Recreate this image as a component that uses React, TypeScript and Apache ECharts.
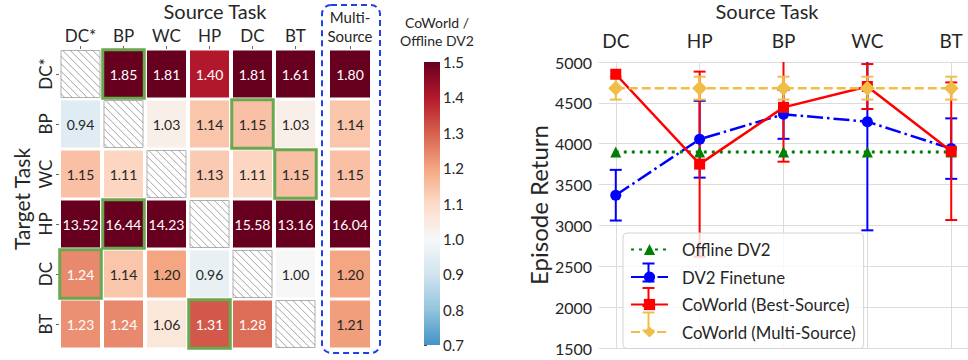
import React, { useEffect, useRef } from 'react';
import * as echarts from 'echarts';

// ---------------- DATA ----------------
const sourceTasks = ['DC*', 'BP', 'WC', 'HP', 'DC', 'BT'];
const targetTasks = ['DC*', 'BP', 'WC', 'HP', 'DC', 'BT'];
// rows = target task, columns = source task, null = same task (hatched)
const rowDCstar = [null, 1.85, 1.81, 1.40, 1.81, 1.61];
const rowBP = [0.94, null, 1.03, 1.14, 1.15, 1.03];
const rowWC = [1.15, 1.11, null, 1.13, 1.11, 1.15];
const rowHP = [13.52, 16.44, 14.23, null, 15.58, 13.16];
const rowDC = [1.24, 1.14, 1.20, 0.96, null, 1.00];
const rowBT = [1.23, 1.24, 1.06, 1.31, 1.28, null];
const ratioRows = [rowDCstar, rowBP, rowWC, rowHP, rowDC, rowBT];
const multiSourceRatio = [1.80, 1.14, 1.15, 16.04, 1.20, 1.21];
const bestSourceCol = [1, 4, 5, 1, 0, 3];
const multiLabel = ['Multi-\nSource'];
const colorbarMin = 0.7;
const colorbarMax = 1.5;

const lineCategories = ['DC', 'HP', 'BP', 'WC', 'BT'];
const offlineDV2 = [3900, 3900, 3900, 3900, 3900];
const dv2FinetuneMean = [3370, 4055, 4360, 4270, 3940];
const dv2FinetuneErr = [310, 470, 300, 1330, 370];
const bestSourceMean = [4850, 3750, 4445, 4700, 3908];
const bestSourceErr = [0, 1132, 665, 275, 842];
const multiSourceMean = [4680, 4680, 4680, 4680, 4680];
const multiSourceErr = [140, 140, 140, 140, 140];

// ---------------- STYLE ----------------
const FONT = 'Lato, "DejaVu Sans", sans-serif';
const TXT = '#262626';
const GREEN_BOX = '#6aa84f';
const C_GREEN = '#008000';
const C_BLUE = '#0000ff';
const C_RED = '#ff0000';
const C_ORANGE = '#f0be46';

const cmapStops: [number, string][] = [
  [0.7, '#4393c3'], [0.8, '#92c5de'], [0.9, '#d1e5f0'], [1.0, '#f7f7f7'],
  [1.1, '#fddbc7'], [1.2, '#f4a582'], [1.3, '#d6604d'], [1.4, '#b2182b'], [1.5, '#67001f'],
];
function hexRgb(h: string) {
  return [parseInt(h.slice(1, 3), 16), parseInt(h.slice(3, 5), 16), parseInt(h.slice(5, 7), 16)];
}
function cmap(v: number) {
  const x = Math.max(colorbarMin, Math.min(colorbarMax, v));
  for (let i = 0; i < cmapStops.length - 1; i++) {
    const [a, ca] = cmapStops[i];
    const [b, cb] = cmapStops[i + 1];
    if (x <= b + 1e-9) {
      const t = (x - a) / (b - a);
      const A = hexRgb(ca), B = hexRgb(cb);
      const c = A.map((q, k) => Math.round(q + (B[k] - q) * t));
      return `rgb(${c[0]},${c[1]},${c[2]})`;
    }
  }
  return cmapStops[cmapStops.length - 1][1];
}
function labelColor(v: number) {
  return v > 1.215 ? '#ffffff' : TXT;
}

const heatData: any[] = [];
ratioRows.forEach((row, r) => row.forEach((v, c) => heatData.push([c, r, v == null ? '-' : v])));
const multiData = multiSourceRatio.map((v, r) => [0, r, v]);
const bestData = bestSourceCol.map((c, r) => [c, r]);

function hatch(x0: number, y0: number, w: number, h: number) {
  const children: any[] = [
    { type: 'rect', shape: { x: x0, y: y0, width: w, height: h }, style: { fill: '#ffffff', stroke: '#b0b0b0', lineWidth: 1 } },
  ];
  const step = 7.5;
  for (let d = -h + step / 2; d < w; d += step) {
    const s = d >= 0 ? [x0 + d, y0] : [x0, y0 - d];
    const e = d + h <= w ? [x0 + d + h, y0 + h] : [x0 + w, y0 + w - d];
    children.push({ type: 'line', shape: { x1: s[0], y1: s[1], x2: e[0], y2: e[1] }, style: { stroke: '#8a8a8a', lineWidth: 0.8 } });
  }
  return { type: 'group', children };
}

function cellRenderer(gx: number, gy: number) {
  return (params: any, api: any) => {
    const c = api.value(0), r = api.value(1), v = api.value(2);
    const p = api.coord([c, r]);
    const s = api.size([1, 1]);
    const w = s[0] - gx, h = s[1] - gy;
    const x0 = p[0] - w / 2, y0 = p[1] - h / 2;
    if (v == null || isNaN(v)) return hatch(x0, y0, w, h);
    return {
      type: 'group',
      children: [
        { type: 'rect', shape: { x: x0, y: y0, width: w, height: h }, style: { fill: cmap(v) } },
        {
          type: 'text', x: p[0], y: p[1] + 0.5,
          style: { text: v.toFixed(2), fill: labelColor(v), font: `14px ${FONT}`, align: 'center', verticalAlign: 'middle' },
        },
      ],
    };
  };
}

function errRenderer(color: string) {
  return (params: any, api: any) => {
    const x = api.value(0), y = api.value(1), e = api.value(2);
    if (!(e > 0)) return null;
    const t = api.coord([x, y + e]);
    const b = api.coord([x, y - e]);
    const cw = 6;
    const st = { stroke: color, lineWidth: 2 };
    return {
      type: 'group',
      children: [
        { type: 'line', shape: { x1: t[0], y1: t[1], x2: b[0], y2: b[1] }, style: st },
        { type: 'line', shape: { x1: t[0] - cw, y1: t[1], x2: t[0] + cw, y2: t[1] }, style: st },
        { type: 'line', shape: { x1: b[0] - cw, y1: b[1], x2: b[0] + cw, y2: b[1] }, style: st },
      ],
    };
  };
}

const pairs = (arr: number[]) => arr.map((v, i) => [i, v]);
const triples = (m: number[], e: number[]) => m.map((v, i) => [i, v, e[i]]);

// legend layout
const LEG_LEFT = 623, LEG_TOP = 233, LEG_PAD = [8, 8, 8, 7], LEG_IW = 37, LEG_IH = 14, LEG_GAP = 10.5;
const legendNames = ['Offline DV2', 'DV2 Finetune', 'CoWorld (Best-Source)', 'CoWorld (Multi-Source)'];
const legendErrColors = [null, C_BLUE, C_RED, C_ORANGE];

function legendErrIcons() {
  const out: any[] = [];
  legendErrColors.forEach((col, i) => {
    if (!col) return;
    const cx = LEG_LEFT + LEG_PAD[3] + LEG_IW / 2;
    const cy = LEG_TOP + LEG_PAD[0] + LEG_IH / 2 + i * (LEG_IH + LEG_GAP);
    const st = { stroke: col, lineWidth: 2 };
    out.push(
      { type: 'line', z: 100, shape: { x1: cx, y1: cy - 9, x2: cx, y2: cy + 9 }, style: st },
      { type: 'line', z: 100, shape: { x1: cx - 6, y1: cy - 9, x2: cx + 6, y2: cy - 9 }, style: st },
      { type: 'line', z: 100, shape: { x1: cx - 6, y1: cy + 9, x2: cx + 6, y2: cy + 9 }, style: st },
    );
  });
  return out;
}

const splitGray = '#dcdcdc';

const option: any = {
  animation: false,
  backgroundColor: '#ffffff',
  textStyle: { fontFamily: FONT },
  grid: [
    { left: 59, top: 49, width: 258, height: 300 },
    { left: 328, top: 49, width: 44, height: 300 },
    { left: 424, top: 62, width: 16, height: 283 },
    { left: 599, top: 62, width: 372, height: 286 },
  ],
  xAxis: [
    {
      gridIndex: 0, type: 'category', data: sourceTasks, position: 'top',
      axisLine: { show: false },
      axisTick: { show: true, alignWithLabel: true, length: 3, lineStyle: { color: '#666' } },
      axisLabel: { fontSize: 17, color: TXT, margin: 5, fontFamily: FONT },
      splitLine: { show: false },
    },
    {
      gridIndex: 1, type: 'category', data: multiLabel, position: 'top',
      axisLine: { show: false },
      axisTick: { show: true, alignWithLabel: true, length: 3, lineStyle: { color: '#666' } },
      axisLabel: { fontSize: 15, lineHeight: 19, color: TXT, margin: 4, fontFamily: FONT },
    },
    { gridIndex: 2, type: 'value', min: 0, max: 1, show: false },
    {
      gridIndex: 3, type: 'value', min: -0.2, max: 4.2, position: 'top',
      axisLine: { show: true, lineStyle: { color: splitGray } },
      axisTick: { show: false, customValues: [0, 1, 2, 3, 4] },
      axisLabel: {
        customValues: [0, 1, 2, 3, 4], fontSize: 19, color: TXT, margin: 12, fontFamily: FONT,
        formatter: (v: number) => (Math.abs(v - Math.round(v)) < 1e-6 ? lineCategories[Math.round(v)] ?? '' : ''),
      },
      splitLine: { show: true, lineStyle: { color: splitGray, width: 1 } },
    },
  ],
  yAxis: [
    {
      gridIndex: 0, type: 'category', data: targetTasks, inverse: true,
      axisLine: { show: false },
      axisTick: { show: true, alignWithLabel: true, length: 3, lineStyle: { color: '#666' } },
      axisLabel: { fontSize: 17, color: TXT, margin: 5, rotate: 90, fontFamily: FONT },
      name: 'Target Task', nameLocation: 'middle', nameGap: 27,
      nameTextStyle: { fontSize: 21, color: TXT, fontFamily: FONT },
    },
    {
      gridIndex: 1, type: 'category', data: targetTasks, inverse: true,
      axisLine: { show: false }, axisTick: { show: false }, axisLabel: { show: false },
    },
    {
      gridIndex: 2, type: 'value', min: colorbarMin, max: colorbarMax, interval: 0.1, position: 'right',
      axisLine: { show: false },
      axisTick: { show: true, length: 3, lineStyle: { color: '#444' } },
      axisLabel: { fontSize: 15, color: TXT, margin: 3, fontFamily: FONT, formatter: (v: number) => v.toFixed(1) },
      splitLine: { show: false },
    },
    {
      gridIndex: 3, type: 'value', min: 1500, max: 5000, interval: 500,
      axisLine: { show: true, lineStyle: { color: splitGray } },
      axisTick: { show: false },
      axisLabel: { fontSize: 16, color: TXT, margin: 7, fontFamily: FONT, formatter: (v: number) => String(v) },
      splitLine: { show: true, lineStyle: { color: splitGray, width: 1 } },
      name: 'Episode Return', nameLocation: 'middle', nameGap: 43,
      nameTextStyle: { fontSize: 24, color: TXT, fontFamily: FONT },
    },
  ],
  legend: {
    data: legendNames,
    orient: 'vertical',
    left: LEG_LEFT, top: LEG_TOP,
    padding: LEG_PAD,
    itemWidth: LEG_IW, itemHeight: LEG_IH, itemGap: LEG_GAP,
    backgroundColor: 'rgba(255,255,255,0.8)',
    borderColor: '#d4d4d4', borderWidth: 1, borderRadius: 4,
    textStyle: { fontSize: 16.8, color: TXT, fontFamily: FONT, padding: [0, 0, 0, 9] },
  },
  graphic: [
    { type: 'text', x: 215, y: 11, style: { text: 'Source Task', font: `20px ${FONT}`, fill: TXT, align: 'center', verticalAlign: 'middle' } },
    { type: 'text', x: 767, y: 11, style: { text: 'Source Task', font: `20px ${FONT}`, fill: TXT, align: 'center', verticalAlign: 'middle' } },
    { type: 'text', x: 437, y: 22, style: { text: 'CoWorld /', font: `14px ${FONT}`, fill: TXT, align: 'center', verticalAlign: 'middle' } },
    { type: 'text', x: 437, y: 40, style: { text: 'Offline DV2', font: `14px ${FONT}`, fill: TXT, align: 'center', verticalAlign: 'middle' } },
    {
      type: 'rect', shape: { x: 322, y: 5, width: 58, height: 348, r: 9 },
      style: { fill: 'none', stroke: '#2040f0', lineWidth: 2, lineDash: [6, 4] },
    },
    ...legendErrIcons(),
  ],
  series: [
    {
      type: 'custom', name: 'ratio', xAxisIndex: 0, yAxisIndex: 0,
      data: heatData, renderItem: cellRenderer(4, 3), silent: true,
    },
    {
      type: 'custom', name: 'best', xAxisIndex: 0, yAxisIndex: 0, data: bestData, silent: true,
      renderItem: (params: any, api: any) => {
        const p = api.coord([api.value(0), api.value(1)]);
        const s = api.size([1, 1]);
        const w = s[0] - 1.5, h = s[1] - 1.5;
        return {
          type: 'rect', shape: { x: p[0] - w / 2, y: p[1] - h / 2, width: w, height: h },
          style: { fill: 'none', stroke: GREEN_BOX, lineWidth: 3 },
        };
      },
    },
    {
      type: 'custom', name: 'multi', xAxisIndex: 1, yAxisIndex: 1,
      data: multiData, renderItem: cellRenderer(4, 3), silent: true,
    },
    {
      type: 'custom', name: 'colorbar', xAxisIndex: 2, yAxisIndex: 2, silent: true,
      data: [[0, colorbarMax, colorbarMin]],
      renderItem: (params: any, api: any) => {
        const a = api.coord([0, api.value(1)]);
        const b = api.coord([1, api.value(2)]);
        const stops = cmapStops.map(([v, c]) => ({ offset: (colorbarMax - v) / (colorbarMax - colorbarMin), color: c }))
          .sort((p, q) => p.offset - q.offset);
        return {
          type: 'rect', shape: { x: a[0], y: a[1], width: b[0] - a[0], height: b[1] - a[1] },
          style: { fill: new echarts.graphic.LinearGradient(0, 0, 0, 1, stops) },
        };
      },
    },
    {
      type: 'line', name: 'Offline DV2', xAxisIndex: 3, yAxisIndex: 3, data: pairs(offlineDV2),
      symbol: 'triangle', symbolSize: 11,
      itemStyle: { color: C_GREEN },
      lineStyle: { color: C_GREEN, width: 3, type: [3, 5] },
    },
    {
      type: 'custom', name: 'err-blue', xAxisIndex: 3, yAxisIndex: 3, clip: true, silent: true,
      data: triples(dv2FinetuneMean, dv2FinetuneErr), renderItem: errRenderer(C_BLUE),
    },
    {
      type: 'line', name: 'DV2 Finetune', xAxisIndex: 3, yAxisIndex: 3, data: pairs(dv2FinetuneMean),
      symbol: 'circle', symbolSize: 11,
      itemStyle: { color: C_BLUE },
      lineStyle: { color: C_BLUE, width: 2.5, type: [16, 4, 2.5, 4] },
    },
    {
      type: 'custom', name: 'err-red', xAxisIndex: 3, yAxisIndex: 3, clip: true, silent: true,
      data: triples(bestSourceMean, bestSourceErr), renderItem: errRenderer(C_RED),
    },
    {
      type: 'line', name: 'CoWorld (Best-Source)', xAxisIndex: 3, yAxisIndex: 3, data: pairs(bestSourceMean),
      symbol: 'rect', symbolSize: 11,
      itemStyle: { color: C_RED },
      lineStyle: { color: C_RED, width: 2.5 },
    },
    {
      type: 'custom', name: 'err-orange', xAxisIndex: 3, yAxisIndex: 3, clip: true, silent: true,
      data: triples(multiSourceMean, multiSourceErr), renderItem: errRenderer(C_ORANGE),
    },
    {
      type: 'line', name: 'CoWorld (Multi-Source)', xAxisIndex: 3, yAxisIndex: 3, data: pairs(multiSourceMean),
      symbol: 'diamond', symbolSize: 15,
      itemStyle: { color: C_ORANGE },
      lineStyle: { color: C_ORANGE, width: 2.5, type: [9, 4] },
    },
  ],
};

export default function App() {
  const ref = useRef<HTMLDivElement>(null);
  useEffect(() => {
    const chart = echarts.init(ref.current as HTMLDivElement, null, { renderer: 'svg' });
    chart.setOption(option);
    return () => chart.dispose();
  }, []);
  return <div ref={ref} style={{ position: 'absolute', left: 0, top: 0, width: 968, height: 360, background: '#fff' }} />;
}
